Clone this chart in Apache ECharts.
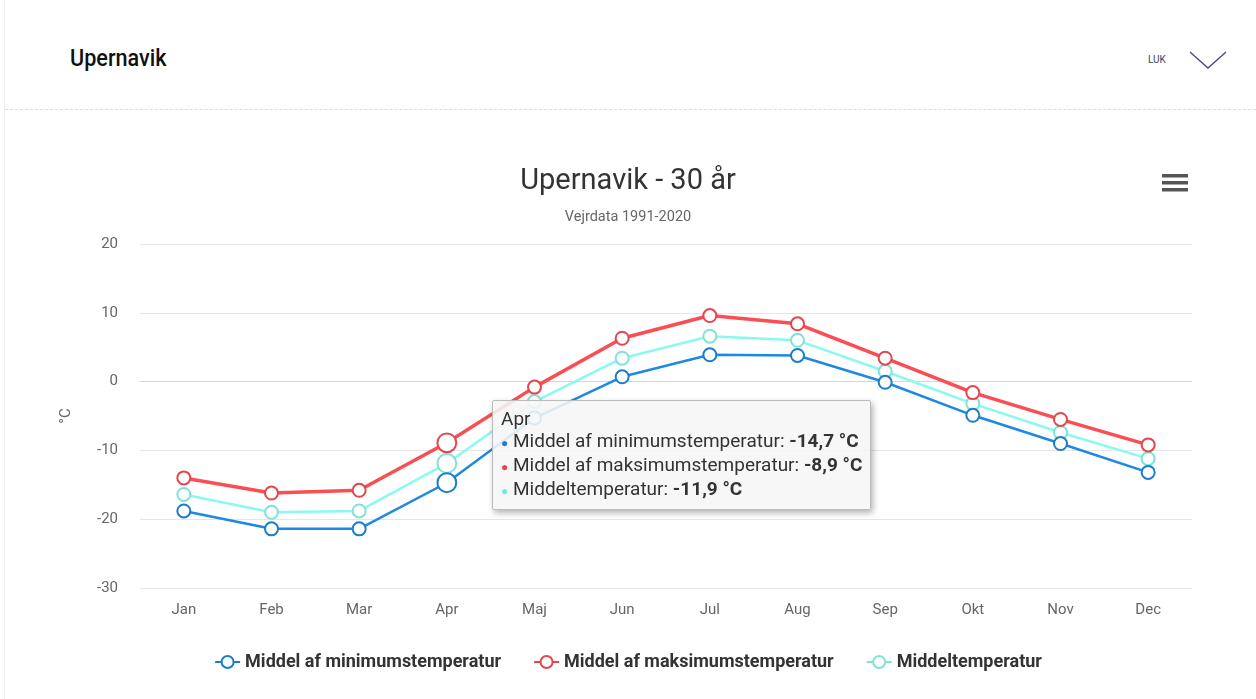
<!DOCTYPE html>
<html>
<head>
<meta charset="utf-8">
<script src="https://cdn.jsdelivr.net/npm/echarts@6/dist/echarts.min.js"></script>
<style>
  html, body { margin: 0; padding: 0; background: #fff; }
  body { width: 1256px; height: 699px; position: relative; overflow: hidden; font-family: Roboto, sans-serif; }
  .edge { position: absolute; left: 4px; top: 0; bottom: 0; border-left: 1px solid #eee; }
  .head { position: absolute; left: 70px; top: 45px; font-size: 23px; font-weight: 500; color: #111; font-family: Roboto, sans-serif; transform: scaleX(0.94); transform-origin: left; }
  .luk { position: absolute; left: 1148px; top: 54px; font-size: 10px; color: #3b3f66; }
  .chev { position: absolute; left: 1188px; top: 49px; }
  .rule { position: absolute; left: 5px; right: 0; top: 109px; border-top: 1px dashed #ddd; }
  #chart { position: absolute; left: 0; top: 0; width: 1256px; height: 699px; }
</style>
</head>
<body>
<div class="edge"></div>
<div class="head">Upernavik</div>
<div class="luk">LUK</div>
<svg class="chev" width="42" height="22"><polyline points="2,3 20,19 38,3" fill="none" stroke="#4a4e75" stroke-width="1.4"/></svg>
<div class="rule"></div>
<div id="chart"></div>
<script>
// månedsnavne og 30-års middelværdier (°C)
const months = ['Jan', 'Feb', 'Mar', 'Apr', 'Maj', 'Jun', 'Jul', 'Aug', 'Sep', 'Okt', 'Nov', 'Dec'];
const minTemp = [-18.8, -21.4, -21.4, -14.7, -5.3, 0.7, 3.9, 3.8, -0.1, -4.9, -9.0, -13.2];
const maxTemp = [-14.0, -16.2, -15.8, -8.9, -0.8, 6.3, 9.6, 8.4, 3.4, -1.6, -5.5, -9.2];
const meanTemp = [-16.4, -19.0, -18.8, -11.9, -2.9, 3.4, 6.6, 6.0, 1.5, -3.2, -7.4, -11.2];
const yTicks = [-30, -20, -10, 0, 10, 20];

const names = ['Middel af minimumstemperatur', 'Middel af maksimumstemperatur', 'Middeltemperatur'];
const colors = ['#1b7dcc', '#e2474d', '#7ee3d9'];

const chart = echarts.init(document.getElementById('chart'));

function lineSeries(i, data) {
  return {
    name: names[i],
    type: 'line',
    data: data,
    symbol: 'emptyCircle',
    symbolSize: 13,
    lineStyle: { width: i === 1 ? 3.5 : 2.5, color: colors[i] },
    itemStyle: { color: colors[i], borderWidth: 2.8 },
    emphasis: { scale: 1.45, focus: 'none' },
    z: 3 - i
  };
}

chart.setOption({
  color: colors,
  textStyle: { fontFamily: 'Roboto, sans-serif' },
  title: {
    text: 'Upernavik - 30 år',
    subtext: 'Vejrdata 1991-2020',
    left: 'center',
    top: 162,
    itemGap: 14,
    textStyle: { fontSize: 29, fontWeight: 'normal', color: '#333' },
    subtextStyle: { fontSize: 14.5, color: '#666' }
  },
  graphic: [
    { type: 'rect', shape: { x: 1162, y: 174, width: 26, height: 3.5 }, style: { fill: '#555' } },
    { type: 'rect', shape: { x: 1162, y: 181, width: 26, height: 3.5 }, style: { fill: '#555' } },
    { type: 'rect', shape: { x: 1162, y: 188, width: 26, height: 3.5 }, style: { fill: '#555' } }
  ],
  grid: { left: 140, right: 64, top: 244, bottom: 111 },
  tooltip: {
    trigger: 'axis',
    alwaysShowContent: true,
    position: [492, 400],
    backgroundColor: 'rgba(246,246,246,0.88)',
    borderColor: '#bbb',
    borderWidth: 1,
    padding: [7, 8],
    extraCssText: 'box-shadow: 2px 3px 6px rgba(0,0,0,0.3); border-radius: 2px;',
    axisPointer: { type: 'none' },
    textStyle: { fontSize: 19, color: '#333' },
    formatter: function (params) {
      let s = '<div style="line-height:22px">' + params[0].name + '<br/>';
      params.forEach(function (p) {
        s += '<span style="color:' + p.color + ';font-size:12px">\u25CF</span> ' + p.seriesName + ': <b>' +
          String(p.value.toFixed(1)).replace('.', ',') + ' °C</b><br/>';
      });
      return s + '</div>';
    }
  },
  legend: {
    top: 648,
    left: 'center',
    itemGap: 32,
    itemWidth: 25,
    itemHeight: 15,
    textStyle: { fontSize: 18, fontWeight: 'bold', color: '#333' },
    data: names
  },
  xAxis: {
    type: 'category',
    data: months,
    axisLine: { lineStyle: { color: '#ccd6eb' } },
    axisTick: { show: false },
    axisLabel: { color: '#666', fontSize: 15, margin: 15 }
  },
  yAxis: {
    type: 'value',
    min: yTicks[0],
    max: yTicks[yTicks.length - 1],
    interval: 10,
    name: '°C',
    nameLocation: 'middle',
    nameGap: 66,
    nameRotate: 90,
    nameTextStyle: { color: '#666', fontSize: 15 },
    axisLabel: { color: '#666', fontSize: 15, margin: 22 },
    splitLine: { lineStyle: { color: '#e6e6e6' } }
  },
  series: [lineSeries(0, minTemp), lineSeries(1, maxTemp), lineSeries(2, meanTemp)]
});

chart.dispatchAction({ type: 'showTip', seriesIndex: 0, dataIndex: 3 });
</script>
</body>
</html>
